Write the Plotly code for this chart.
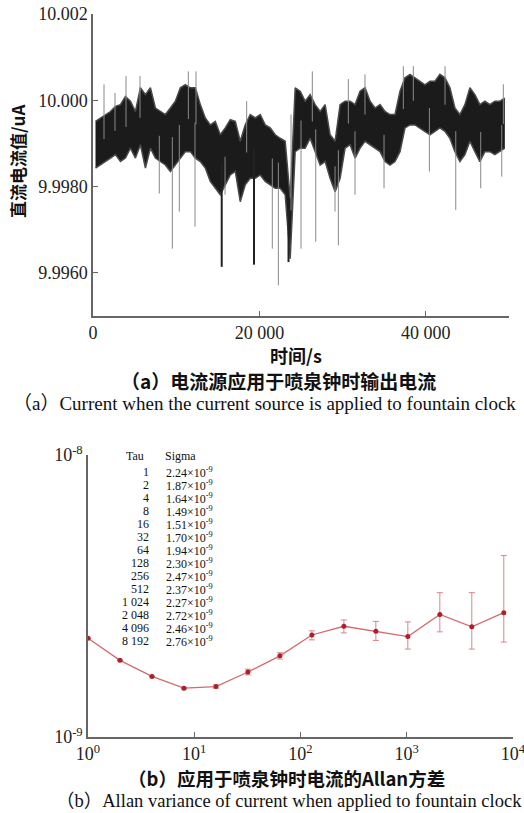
import numpy as np
import plotly.graph_objects as go

W, H = 524, 813

# ---------------- (a) DC current time series (envelope) ----------------
t_samples = [600 * j - 300 for j in range(1, 84)]
cur_upper = [9.99951, 9.99959, 9.99967, 9.99974, 9.99986, 9.99990, 10.00009, 9.99998, 9.99974, 10.00029,
             10.00013, 10.00029, 9.99982, 9.99974, 9.99967, 9.99982, 9.99998, 10.00029, 10.00036, 10.00029,
             10.00029, 9.99990, 9.99959, 9.99943, 9.99951, 9.99920, 9.99936, 9.99955, 9.99951, 9.99905,
             9.99943, 9.99967, 9.99959, 9.99967, 9.99943, 9.99936, 9.99920, 9.99912, 9.99905, 9.99773,
             10.00029, 10.00021, 9.99998, 10.00013, 9.99990, 9.99974, 9.99990, 9.99920, 9.99905, 9.99990,
             9.99998, 9.99998, 9.99990, 10.00021, 10.00029, 9.99998, 9.99982, 9.99990, 9.99974, 9.99967,
             9.99967, 10.00021, 10.00052, 10.00060, 10.00052, 10.00044, 10.00036, 10.00044, 10.00044, 10.00060,
             10.00052, 10.00029, 9.99982, 9.99967, 9.99990, 10.00029, 10.00013, 9.99990, 9.99998, 9.99990,
             9.99998, 9.99998, 10.00005]
cur_lower = [9.99843, 9.99850, 9.99858, 9.99866, 9.99874, 9.99858, 9.99866, 9.99889, 9.99866, 9.99897,
             9.99843, 9.99889, 9.99866, 9.99858, 9.99850, 9.99835, 9.99850, 9.99866, 9.99881, 9.99881,
             9.99866, 9.99858, 9.99843, 9.99812, 9.99796, 9.99781, 9.99804, 9.99827, 9.99835, 9.99765,
             9.99804, 9.99819, 9.99819, 9.99827, 9.99812, 9.99804, 9.99796, 9.99796, 9.99781, 9.99633,
             9.99881, 9.99889, 9.99889, 9.99912, 9.99881, 9.99850, 9.99858, 9.99819, 9.99788, 9.99819,
             9.99889, 9.99897, 9.99866, 9.99889, 9.99905, 9.99897, 9.99889, 9.99881, 9.99858, 9.99850,
             9.99858, 9.99881, 9.99936, 9.99943, 9.99943, 9.99936, 9.99928, 9.99920, 9.99928, 9.99936,
             9.99928, 9.99912, 9.99881, 9.99858, 9.99874, 9.99905, 9.99881, 9.99858, 9.99881, 9.99881,
             9.99874, 9.99881, 9.99889]
spike_t = [1322, 2644, 3967, 5649, 7970, 9535, 10375, 11460, 12380, 12260, 15870,
           18470, 21550, 22280, 23800, 25000, 26360, 26770, 29490, 29090, 31490, 30690, 32690,
           34980, 37300, 38500, 40430, 42310, 43600, 46600, 49320, 49130]
spike_v = [10.00037, 10.00017, 10.00056, 10.00056, 9.99784, 9.99656, 9.99742, 10.00067, 10.00067, 9.99707, 9.99781,
           9.99998, 9.99656, 9.99571, 9.99967, 9.99656, 10.00067, 9.99672, 9.99664, 9.99742, 9.99781, 10.00049, 10.0006,
           9.99796, 10.00079, 10.00079, 9.99835, 10.00079, 9.99746, 9.99796, 10.00037, 9.99823]
dark_spike_t = [15470, 19350, 23500]
dark_spike_v = [9.99614, 9.99619, 9.99625]

x_ticks_a = [0, 20000, 40000, 50000]
x_ticktext_a = ["0", "20 000", "40 000", ""]
y_ticks_a = [10.002, 10.000, 9.998, 9.996]
y_ticktext_a = ["10.002", "10.000", "9.9980", "9.9960"]

# ---------------- (b) Allan deviation ----------------
tau = [1, 2, 4, 8, 16, 32, 64, 128, 256, 512, 1024, 2048, 4096, 8192]
tau_label = ["1", "2", "4", "8", "16", "32", "64", "128", "256", "512", "1 024", "2 048", "4 096", "8 192"]
sigma = [2.24, 1.87, 1.64, 1.49, 1.51, 1.70, 1.94, 2.30, 2.47, 2.37, 2.27, 2.72, 2.46, 2.76]  # x1e-9
err_plus = [0, 0, 0, 0.01, 0.02, 0.04, 0.05, 0.08, 0.13, 0.20, 0.29, 0.53, 0.79, 1.64]
err_minus = [0, 0, 0, 0.01, 0.02, 0.04, 0.05, 0.09, 0.13, 0.17, 0.22, 0.36, 0.41, 0.59]


def px(x):
    return x / W


def py(y):
    return 1 - y / H


fig = go.Figure()

# envelope of the dense time series
fig.add_trace(go.Scatter(x=t_samples, y=cur_lower, mode="lines",
                         line=dict(color="#4a4a4a", width=1.5), showlegend=False,
                         xaxis="x", yaxis="y"))
fig.add_trace(go.Scatter(x=t_samples, y=cur_upper, mode="lines", fill="tonexty",
                         fillcolor="#1b1b1b", line=dict(color="#4a4a4a", width=1.5),
                         showlegend=False, xaxis="x", yaxis="y"))

mid = [(a + b) / 2 for a, b in zip(cur_upper, cur_lower)]
sx, sy = [], []
for t, v in zip(spike_t, spike_v):
    base = float(np.interp(t, t_samples, mid))
    sx += [t, t, None]
    sy += [base, v, None]
fig.add_trace(go.Scatter(x=sx, y=sy, mode="lines", line=dict(color="#8a8a8a", width=1),
                         showlegend=False, xaxis="x", yaxis="y"))
dx, dy = [], []
for t, v in zip(dark_spike_t, dark_spike_v):
    base = float(np.interp(t, t_samples, mid))
    dx += [t, t, None]
    dy += [base, v, None]
fig.add_trace(go.Scatter(x=dx, y=dy, mode="lines", line=dict(color="#222222", width=2),
                         showlegend=False, xaxis="x", yaxis="y"))

# Allan deviation
sig = [s * 1e-9 for s in sigma]
fig.add_trace(go.Scatter(
    x=tau, y=sig, mode="lines+markers",
    line=dict(color="#d46a6f", width=1.3),
    marker=dict(color="#b01e2a", size=5),
    error_y=dict(type="data", symmetric=False,
                 array=[e * 1e-9 for e in err_plus],
                 arrayminus=[e * 1e-9 for e in err_minus],
                 color="#d9868a", thickness=1, width=3),
    showlegend=False, xaxis="x2", yaxis="y2"))

serif = "Liberation Serif"
cjk = "Noto Sans CJK SC"

axis_common = dict(showline=True, linecolor="#666666", linewidth=1.5, ticks="inside",
                   ticklen=5, tickcolor="#666666", showgrid=False, zeroline=False,
                   automargin=False, ticklabeloverflow="allow",
                   tickfont=dict(family=serif, size=18, color="#222"))

fig.update_layout(
    width=W, height=H, autosize=False,
    margin=dict(l=0, r=0, t=0, b=0, pad=0),
    paper_bgcolor="white", plot_bgcolor="white",
    xaxis=dict(domain=[px(93), px(509)], range=[0, 50000], tickvals=x_ticks_a,
               ticktext=x_ticktext_a, anchor="y", **axis_common),
    yaxis=dict(domain=[py(316), py(14)], range=[9.995, 10.002], tickvals=y_ticks_a,
               ticktext=y_ticktext_a, anchor="x", **axis_common),
    xaxis2=dict(domain=[px(88), px(513)], type="log", range=[0, 4],
                tickvals=[1, 10, 100, 1000, 10000],
                ticktext=["10<sup>0</sup>", "10<sup>1</sup>", "10<sup>2</sup>", "10<sup>3</sup>", "10<sup>4</sup>"],
                anchor="y2", **axis_common),
    yaxis2=dict(domain=[py(737), py(455)], type="log", range=[-9, -8],
                tickvals=[1e-9, 1e-8], ticktext=["10<sup>-9</sup>", "10<sup>-8</sup>"],
                anchor="x2", **axis_common),
)

ann = []
# axis titles
ann.append(dict(x=px(18), y=py(162), text="直流电流值/uA", textangle=-90, showarrow=False,
                font=dict(family=cjk, size=17, color="#111", weight="bold"),
                xanchor="center", yanchor="middle"))
ann.append(dict(x=px(296), y=py(355), text="时间/s", showarrow=False,
                font=dict(family=cjk, size=18, color="#111", weight="bold"),
                xanchor="center", yanchor="middle"))
# captions
ann.append(dict(x=px(278), y=py(380), text="（a）电流源应用于喷泉钟时输出电流", showarrow=False,
                font=dict(family=cjk, size=19, color="#111", weight="bold"),
                xanchor="center", yanchor="middle"))
ann.append(dict(x=px(264), y=py(404), text="（a）Current when the current source is applied to fountain clock",
                showarrow=False, font=dict(family=serif + ", " + cjk, size=19, color="#111"),
                xanchor="center", yanchor="middle"))
ann.append(dict(x=px(286), y=py(778), text="（b）应用于喷泉钟时电流的Allan方差", showarrow=False,
                font=dict(family=cjk, size=18.5, color="#111", weight="bold"),
                xanchor="center", yanchor="middle"))
ann.append(dict(x=px(289), y=py(801), text="（b）Allan variance of current when applied to fountain clock",
                showarrow=False, font=dict(family=serif + ", " + cjk, size=18.5, color="#111"),
                xanchor="center", yanchor="middle"))
# table in the Allan plot
tfont = dict(family=serif, size=12, color="#111")
ann.append(dict(x=px(135), y=py(456), text="Tau", showarrow=False, font=tfont,
                xanchor="center", yanchor="middle"))
ann.append(dict(x=px(180), y=py(456), text="Sigma", showarrow=False, font=tfont,
                xanchor="center", yanchor="middle"))
for i, (tl, s) in enumerate(zip(tau_label, sigma)):
    yy = py(472 + 13 * i)
    ann.append(dict(x=px(151), y=yy, text=tl, showarrow=False, font=tfont,
                    xanchor="right", yanchor="middle"))
    ann.append(dict(x=px(164), y=yy, text=f"{s:.2f}×10<sup>-9</sup>", showarrow=False, font=tfont,
                    xanchor="left", yanchor="middle"))

fig.update_layout(annotations=[dict(xref="paper", yref="paper", **a) for a in ann])

fig.write_html("out.html",
               post_script="document.body.style.margin='0';document.body.style.padding='0';")
